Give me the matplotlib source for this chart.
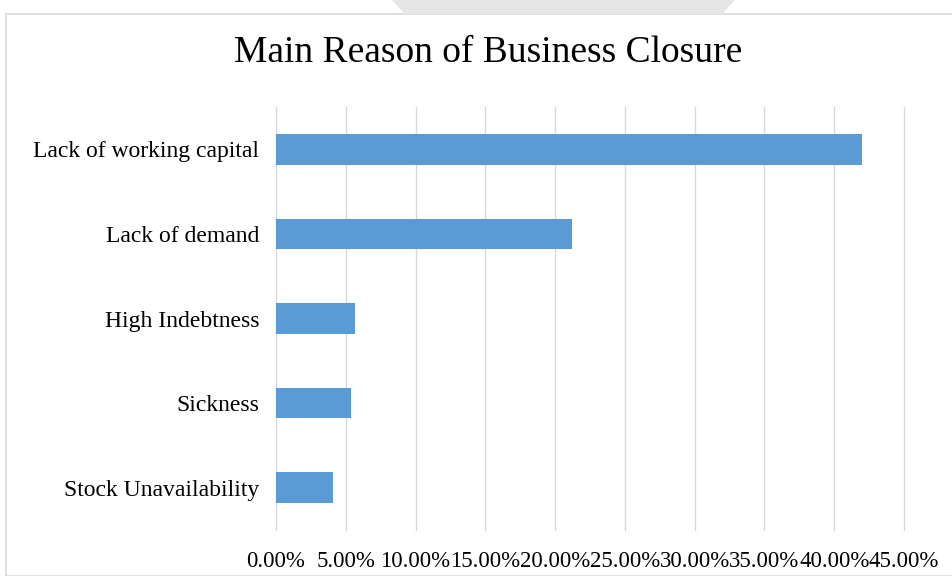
import numpy as np
import matplotlib.pyplot as plt
from matplotlib.patches import Rectangle, Polygon
from matplotlib.ticker import PercentFormatter

# Data (share of businesses)
reasons = ['Lack of working capital', 'Lack of demand', 'High Indebtness',
           'Sickness', 'Stock Unavailability']
shares = [0.420, 0.212, 0.0568, 0.0539, 0.0408]
x_ticks = [0.00, 0.05, 0.10, 0.15, 0.20, 0.25, 0.30, 0.35, 0.40, 0.45]

plt.rcParams['font.family'] = ['Liberation Serif', 'DejaVu Serif']

fig = plt.figure(figsize=(9.53, 5.76), dpi=100)

# chart-area border and the faint grey shape at the top edge
fig.patches.append(Rectangle((6 / 953, 0), 1, 1 - 14 / 576, transform=fig.transFigure,
                             fill=False, edgecolor='#D9D9D9', linewidth=1.2))
fig.patches.append(Polygon([(392 / 953, 1), (735 / 953, 1), (722 / 953, 1 - 14 / 576),
                            (405 / 953, 1 - 14 / 576)], closed=True,
                           transform=fig.transFigure, facecolor='#E6E6E6', edgecolor='none'))

ax = fig.add_axes([276 / 953, 1 - 530 / 576, (904 - 276) / 953, (530 - 107) / 576])

y = np.arange(len(reasons))
ax.barh(y, shares, height=0.36, color='#5B9BD5', zorder=3)
ax.set_yticks(y)
ax.set_yticklabels(reasons, fontsize=17)
ax.set_ylim(len(reasons) - 0.5, -0.5)

ax.set_xlim(0, 0.45)
ax.set_xticks(x_ticks)
ax.xaxis.set_major_formatter(PercentFormatter(xmax=1, decimals=2))
for lbl in ax.get_xticklabels():
    lbl.set_fontsize(16.5)

ax.grid(axis='x', color='#D9D9D9', linewidth=1.0, zorder=0)
for gl in ax.get_xgridlines():
    gl.set_clip_on(False)
for s in ax.spines.values():
    s.set_visible(False)
ax.tick_params(axis='x', length=0, pad=15)
ax.tick_params(axis='y', length=0, pad=12)

fig.text(488 / 953, 1 - 53 / 576, 'Main Reason of Business Closure', ha='center',
         va='center', fontsize=27)

plt.savefig('out.png', dpi=100)
